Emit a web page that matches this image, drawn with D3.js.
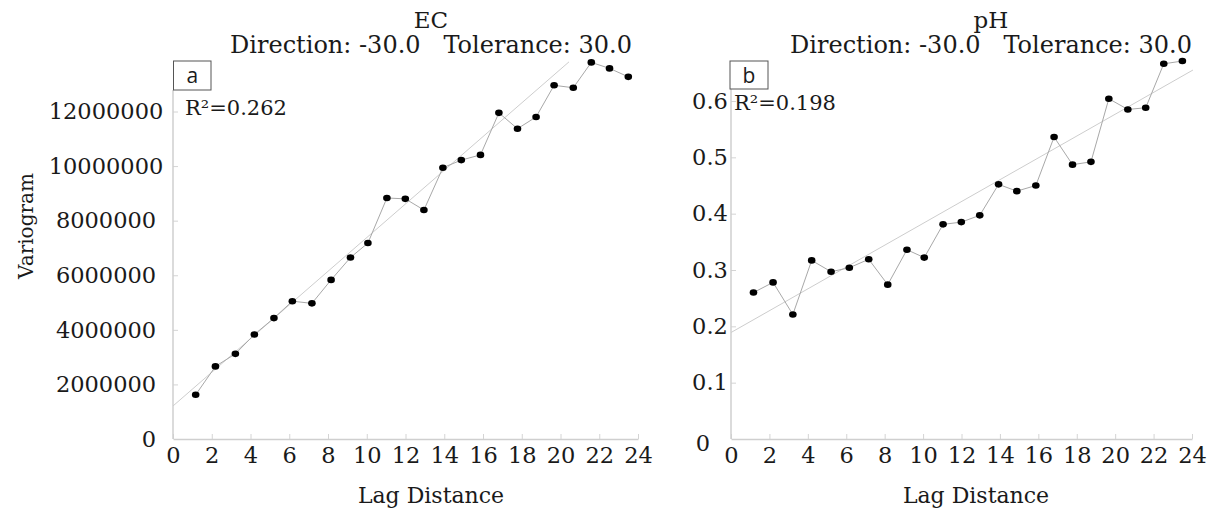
<!DOCTYPE html>
<html>
<head>
<meta charset="utf-8">
<script src="https://cdn.jsdelivr.net/npm/d3@7"></script>
<style>
  body { margin: 0; background: #fff; }
  text { font-family: "DejaVu Serif", serif; fill: #1a1a1a; }
  .tick line { stroke: #d4d4d4; }
  .tick text { font-size: 22.5px; }
</style>
</head>
<body>
<div id="chart"></div>
<script>
// lag classes (same for both variables)
var lagDistance = [1.17, 2.19, 3.22, 4.2, 5.21, 6.16, 7.17, 8.16, 9.16, 10.06, 11.04, 11.99,
                   12.95, 13.93, 14.88, 15.87, 16.82, 17.78, 18.74, 19.67, 20.66, 21.59, 22.53, 23.5];

var ecVariogram = [1620000, 2660000, 3120000, 3830000, 4430000, 5050000, 4970000, 5830000,
                   6650000, 7180000, 8830000, 8800000, 8390000, 9940000, 10220000, 10410000,
                   11950000, 11370000, 11800000, 12960000, 12870000, 13800000, 13580000, 13270000];

var phVariogram = [0.260, 0.278, 0.221, 0.317, 0.297, 0.304, 0.319, 0.274, 0.336, 0.322, 0.381, 0.385,
                   0.397, 0.452, 0.440, 0.450, 0.536, 0.487, 0.492, 0.604, 0.585, 0.588, 0.666, 0.671];

// trend lines, as [lag, value] end points
var ecTrend = [[0, 1210000], [20.44, 13820000]];
var phTrend = [[0, 0.189], [24.05, 0.655]];

var xTicks = [0, 2, 4, 6, 8, 10, 12, 14, 16, 18, 20, 22, 24];
var ecTicks = [0, 2000000, 4000000, 6000000, 8000000, 10000000, 12000000];
var phTicks = [0, 0.1, 0.2, 0.3, 0.4, 0.5, 0.6];

var titles = ["EC", "pH"];
var panelLetters = ["a", "b"];
var r2Values = [0.262, 0.198];
var direction = -30.0, tolerance = 30.0;

var width = 1217, height = 513;

var svg = d3.select("#chart").append("svg")
    .attr("width", width)
    .attr("height", height)
    .style("background", "#fff");

var panels = [
  { values: ecVariogram, trend: ecTrend, ticks: ecTicks, top: 12000000,
    x0: 173, x1: 638, yBase: 439, yTop: 111.5, labelMid: 106, zeroDx: 43, zeroDy: 0,
    box: [173.5, 61, 37.5, 29], r2Pos: [185, 115], titleX: 431, labelX: 431,
    fmt: d3.format("d") },
  { values: phVariogram, trend: phTrend, ticks: phTicks, top: 0.6,
    x0: 731, x1: 1192, yBase: 439, yTop: 101, labelMid: 710, zeroDx: -7, zeroDy: 4,
    box: [730, 61, 38, 28], r2Pos: [734, 110], titleX: 991, labelX: 976,
    fmt: function(d) { return d === 0 ? "0" : d3.format(".1f")(d); } }
];

panels.forEach(function(p, i) {
  var x = d3.scaleLinear().domain([0, 24]).range([p.x0, p.x1]);
  var y = d3.scaleLinear().domain([0, p.top]).range([p.yBase, p.yTop]);
  var g = svg.append("g");

  // titles
  g.append("text")
      .attr("x", p.titleX).attr("y", 28)
      .attr("text-anchor", "middle")
      .style("font-size", "23px")
      .text(titles[i]);
  g.append("text")
      .attr("x", p.titleX).attr("y", 53)
      .attr("text-anchor", "middle")
      .style("font-size", "24px")
      .style("white-space", "pre")
      .text("Direction: " + direction.toFixed(1) + "   Tolerance: " + tolerance.toFixed(1));

  // x axis
  var xa = g.append("g")
      .attr("transform", "translate(0," + p.yBase + ")")
      .call(d3.axisBottom(x).tickValues(xTicks).tickSize(-5).tickSizeOuter(0).tickPadding(8));
  xa.select(".domain").attr("stroke", "#cfcfcf").attr("stroke-width", 1.5);

  // y axis (labels centred in their column, like the original)
  var ya = g.append("g")
      .attr("transform", "translate(" + p.x0 + ",0)")
      .call(d3.axisLeft(y).tickValues(p.ticks).tickSize(-5).tickFormat(p.fmt));
  ya.select(".domain").remove();
  ya.selectAll(".tick text")
      .attr("text-anchor", "middle")
      .attr("x", p.labelMid - p.x0);
  var zero = ya.selectAll(".tick").filter(function(d) { return d === 0; });
  zero.select("text").attr("dx", p.zeroDx).attr("dy", (0.32 * 22.5 + p.zeroDy) + "px");
  zero.select("line").remove();
  g.append("line")
      .attr("x1", p.x0).attr("x2", p.x0)
      .attr("y1", y(0)).attr("y2", p.box[1] + p.box[3])
      .attr("stroke", "#cfcfcf").attr("stroke-width", 1.5);

  // x label
  g.append("text")
      .attr("x", p.labelX).attr("y", 503)
      .attr("text-anchor", "middle")
      .style("font-size", "22px")
      .text("Lag Distance");

  // trend line
  g.append("line")
      .attr("x1", x(p.trend[0][0])).attr("y1", y(p.trend[0][1]))
      .attr("x2", x(p.trend[1][0])).attr("y2", y(p.trend[1][1]))
      .attr("stroke", "#cdcdcd").attr("stroke-width", 1);

  // experimental variogram
  var pts = lagDistance.map(function(l, k) { return [l, p.values[k]]; });
  g.append("path")
      .datum(pts)
      .attr("fill", "none")
      .attr("stroke", "#a8a8a8")
      .attr("stroke-width", 1)
      .attr("d", d3.line().x(function(d) { return x(d[0]); }).y(function(d) { return y(d[1]); }));
  g.selectAll("ellipse.pt").data(pts).enter().append("ellipse")
      .attr("class", "pt")
      .attr("cx", function(d) { return x(d[0]); })
      .attr("cy", function(d) { return y(d[1]); })
      .attr("rx", 3.8).attr("ry", 3.3)
      .attr("fill", "#000");

  // panel letter box
  g.append("rect")
      .attr("x", p.box[0]).attr("y", p.box[1])
      .attr("width", p.box[2]).attr("height", p.box[3])
      .attr("fill", "#fff").attr("stroke", "#555").attr("stroke-width", 1);
  g.append("text")
      .attr("x", p.box[0] + p.box[2] / 2).attr("y", p.box[1] + p.box[3] / 2 + 7.5)
      .attr("text-anchor", "middle")
      .style("font-family", "'Open Sans', sans-serif")
      .style("font-size", "21px")
      .text(panelLetters[i]);

  g.append("text")
      .attr("x", p.r2Pos[0]).attr("y", p.r2Pos[1])
      .style("font-size", "21px")
      .text("R\u00b2=" + r2Values[i].toFixed(3));
});

// y axis title
svg.append("text")
    .attr("transform", "translate(33,226) rotate(-90)")
    .attr("text-anchor", "middle")
    .style("font-size", "20px")
    .text("Variogram");
</script>
</body>
</html>
